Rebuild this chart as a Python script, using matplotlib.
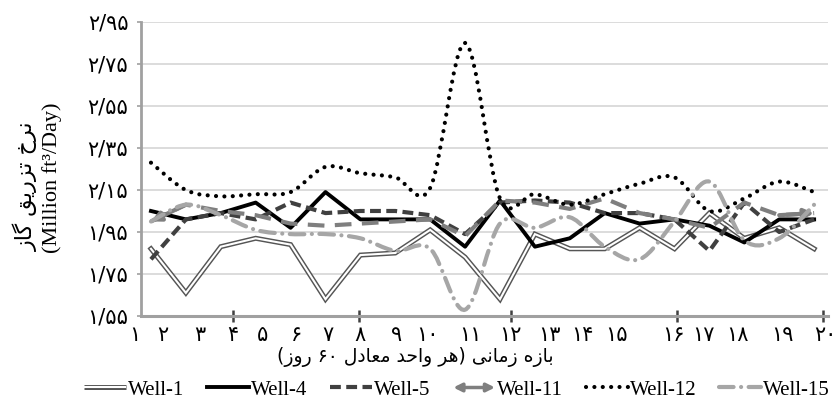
import re
import numpy as np
import matplotlib
matplotlib.use("Agg")
import matplotlib.pyplot as plt
import matplotlib.transforms as mtransforms
from matplotlib.path import Path
from matplotlib.patches import PathPatch, FancyArrowPatch
from matplotlib.lines import Line2D

# ---------------- data ----------------
periods = list(range(1, 21))
period_labels = ['۱', '۲', '۳', '۴', '۵', '۶', '۷', '۸', '۹', '۱۰',
                 '۱۱', '۱۲', '۱۳', '۱۴', '۱۵', '۱۶', '۱۷', '۱۸', '۱۹', '۲۰']
y_ticks = [1.55, 1.75, 1.95, 2.15, 2.35, 2.55, 2.75, 2.95]
y_tick_labels = ['۱/۵۵', '۱/۷۵', '۱/۹۵', '۲/۱۵', '۲/۳۵', '۲/۵۵', '۲/۷۵', '۲/۹۵']

well_1 = [1.87, 1.66, 1.88, 1.92, 1.89, 1.63, 1.84, 1.85, 1.96, 1.83,
          1.63, 1.94, 1.87, 1.87, 1.97, 1.87, 2.04, 1.92, 1.97, 1.87]
well_4 = [2.05, 2.01, 2.04, 2.09, 1.97, 2.14, 2.01, 2.01, 2.01, 1.88,
          2.10, 1.88, 1.92, 2.04, 1.99, 2.01, 1.98, 1.90, 2.01, 2.01]
well_5 = [1.82, 2.01, 2.04, 2.01, 2.09, 2.04, 2.05, 2.05, 2.03, 1.94,
          2.09, 2.10, 2.09, 2.04, 2.04, 2.01, 1.86, 2.09, 1.95, 2.01]
well_11 = [2.00, 2.08, 2.05, 2.03, 1.99, 1.98, 1.99, 2.00, 2.01, 1.93,
           2.10, 2.09, 2.06, 2.11, 2.04, 2.01, 1.97, 2.09, 2.03, 2.04]
well_12 = [2.28, 2.15, 2.12, 2.13, 2.14, 2.26, 2.23, 2.21, 2.16, 2.85,
           2.11, 2.13, 2.08, 2.13, 2.18, 2.21, 2.05, 2.11, 2.19, 2.14]
well_15 = [2.00, 2.08, 2.03, 1.96, 1.94, 1.94, 1.92, 1.86, 1.87, 1.58,
           1.99, 1.97, 2.02, 1.88, 1.82, 2.00, 2.19, 1.91, 1.92, 2.08]

series_names = ['Well-1', 'Well-4', 'Well-5', 'Well-11', 'Well-12', 'Well-15']

x_title = 'بازه زمانی (هر واحد معادل ۶۰ روز)'
y_title_fa = 'نرخ تزریق گاز'
y_title_en = '(Million ft³/Day)'

# label placement along the x axis (as in the source figure)
label_pos = [0.54, 1.34, 2.40, 3.35, 4.21, 5.18, 6.07, 6.99, 8.05, 8.91,
             10.14, 11.29, 12.43, 13.35, 14.35, 15.96, 16.82, 17.79, 19.08, 20.31]
tick_marks = [3.35, 6.96, 11.32, 16.07, 20.25]

# ---------------- Persian shaping helpers ----------------
FORMS = {
    'ا': ('\uFE8D', '\uFE8E', None, None),
    'ب': ('\uFE8F', '\uFE90', '\uFE91', '\uFE92'),
    'ت': ('\uFE95', '\uFE96', '\uFE97', '\uFE98'),
    'ح': ('\uFEA1', '\uFEA2', '\uFEA3', '\uFEA4'),
    'خ': ('\uFEA5', '\uFEA6', '\uFEA7', '\uFEA8'),
    'د': ('\uFEA9', '\uFEAA', None, None),
    'ر': ('\uFEAD', '\uFEAE', None, None),
    'ز': ('\uFEAF', '\uFEB0', None, None),
    'ع': ('\uFEC9', '\uFECA', '\uFECB', '\uFECC'),
    'ق': ('\uFED5', '\uFED6', '\uFED7', '\uFED8'),
    'ل': ('\uFEDD', '\uFEDE', '\uFEDF', '\uFEE0'),
    'م': ('\uFEE1', '\uFEE2', '\uFEE3', '\uFEE4'),
    'ن': ('\uFEE5', '\uFEE6', '\uFEE7', '\uFEE8'),
    'ه': ('\uFEE9', '\uFEEA', '\uFEEB', '\uFEEC'),
    'و': ('\uFEED', '\uFEEE', None, None),
    'ی': ('\uFBFC', '\uFBFD', '\uFBFE', '\uFBFF'),
    'گ': ('\uFB92', '\uFB93', '\uFB94', '\uFB95'),
}


def shape(s):
    out = []
    for i, c in enumerate(s):
        if c not in FORMS:
            out.append(c)
            continue
        prev = s[i - 1] if i > 0 else ''
        nxt = s[i + 1] if i + 1 < len(s) else ''
        jp = prev in FORMS and FORMS[prev][2] is not None
        jn = FORMS[c][2] is not None and nxt in FORMS
        iso, fin, ini, med = FORMS[c]
        if jp and jn:
            out.append(med)
        elif jp:
            out.append(fin)
        elif jn:
            out.append(ini)
        else:
            out.append(iso)
    return ''.join(out)


def rtl(s):
    r = shape(s)[::-1]
    r = re.sub(r'[\u06F0-\u06F9]+', lambda m: m.group(0)[::-1], r)
    return r.translate(str.maketrans('()', ')('))


def smooth_path(xs, ys):
    pts = np.column_stack([xs, ys]).astype(float)
    n = len(pts)
    verts = [pts[0]]
    codes = [Path.MOVETO]
    for i in range(n - 1):
        p0 = pts[i - 1] if i > 0 else pts[i]
        p1, p2 = pts[i], pts[i + 1]
        p3 = pts[i + 2] if i + 2 < n else pts[i + 1]
        verts += [p1 + (p2 - p0) / 6.0, p2 - (p3 - p1) / 6.0, p2]
        codes += [Path.CURVE4] * 3
    return Path(verts, codes)


# ---------------- figure ----------------
FA = ['DejaVu Sans']
EN = ['Liberation Serif', 'DejaVu Serif']

fig = plt.figure(figsize=(8.39, 4.05), dpi=100)
ax = fig.add_axes([0.168, 0.2198, 0.819, 0.7259])

C1, C4, C5, C11, C12, C15 = '#555555', '#000000', '#404040', '#7f7f7f', '#000000', '#a6a6a6'

# Well-1 : double line
ax.plot(periods, well_1, color=C1, lw=3.6, solid_joinstyle='miter', zorder=3)
ax.plot(periods, well_1, color='white', lw=1.5, solid_joinstyle='miter', zorder=3.01)
# Well-4
ax.plot(periods, well_4, color=C4, lw=2.8, zorder=3.1)
# Well-5
ax.plot(periods, well_5, color=C5, lw=3.0, linestyle=(0, (2.6, 1.3)), zorder=3.2)
# Well-11 with arrow heads
ax.plot(periods, well_11, color=C11, lw=3.0, linestyle=(0, (4.0, 2.5)), zorder=3.3)
for (xa, ya), (xb, yb) in [((periods[1], well_11[1]), (periods[0], well_11[0])),
                           ((periods[-2], well_11[-2]), (periods[-1], well_11[-1]))]:
    ax.annotate('', xy=(xb, yb), xytext=(xa, ya),
                arrowprops=dict(arrowstyle='-|>', color=C11, lw=3.0,
                                mutation_scale=14, shrinkA=0, shrinkB=0),
                zorder=3.3)
# Well-12 : smoothed dotted
ax.add_patch(PathPatch(smooth_path(periods, well_12), fill=False, edgecolor=C12,
                       lw=3.0, linestyle=(0, (0.01, 2.0)), capstyle='round', zorder=3.4))
# Well-15 : smoothed dash-dot light grey
ax.add_patch(PathPatch(smooth_path(periods, well_15), fill=False, edgecolor=C15,
                       lw=3.0, linestyle=(0, (3.5, 1.8, 0.01, 1.8)), capstyle='round',
                       zorder=3.5))

ax.set_xlim(0.713, 20.40)
ax.set_ylim(1.55, 2.95)
ax.set_yticks(y_ticks)
ax.set_yticklabels(y_tick_labels, family=FA, fontsize=15)
ax.set_xticks(tick_marks)
ax.set_xticklabels([''] * len(tick_marks))
ax.yaxis.grid(True, color='#d9d9d9', lw=1.3)
ax.set_axisbelow(True)
for sp in ['top', 'right']:
    ax.spines[sp].set_visible(False)
ax.spines['left'].set_color('#a0a0a0')
ax.spines['left'].set_linewidth(2.0)
ax.spines['bottom'].set_color('#a0a0a0')
ax.spines['bottom'].set_linewidth(2.2)
ax.tick_params(axis='y', length=3, width=1.2, color='#a0a0a0', pad=6)
ax.tick_params(axis='x', direction='inout', length=8, width=1.8, color='#404040')

tr = mtransforms.blended_transform_factory(ax.transData, ax.transAxes)
for pos, lab in zip(label_pos, period_labels):
    ax.text(pos, -0.065, lab, transform=tr, ha='center', va='center',
            family=FA, fontsize=15, clip_on=False)

fig.text(415 / 839, 1 - 357 / 405, rtl(x_title), ha='center', va='center',
         family=FA, fontsize=13.5)
fig.text(26 / 839, 1 - 186 / 405, rtl(y_title_fa), ha='center', va='center',
         rotation=90, family=FA, fontsize=16)
fig.text(52 / 839, 1 - 178 / 405, y_title_en, ha='center', va='center',
         rotation=90, family=EN, fontsize=16)


# legend
class ArrowHandler:
    def legend_artist(self, legend, orig_handle, fontsize, handlebox):
        x0, y0 = handlebox.xdescent, handlebox.ydescent
        w, h = handlebox.width, handlebox.height
        p = FancyArrowPatch((x0, y0 + h / 2), (x0 + w, y0 + h / 2),
                            arrowstyle='<|-|>', mutation_scale=12, lw=2.5,
                            color=C11, shrinkA=0, shrinkB=0,
                            transform=handlebox.get_transform())
        handlebox.add_artist(p)
        return p


class DoubleLineHandler:
    def legend_artist(self, legend, orig_handle, fontsize, handlebox):
        x0, y0 = handlebox.xdescent, handlebox.ydescent
        w, h = handlebox.width, handlebox.height
        t = handlebox.get_transform()
        a = Line2D([x0, x0 + w], [y0 + h / 2] * 2, color=C1, lw=3.6,
                   solid_capstyle='butt', transform=t)
        b = Line2D([x0, x0 + w], [y0 + h / 2] * 2, color='white', lw=1.5,
                   solid_capstyle='butt', transform=t)
        handlebox.add_artist(a)
        handlebox.add_artist(b)
        return a


class ArrowProxy:
    pass


class DoubleProxy:
    pass


h1 = DoubleProxy()
h4 = Line2D([], [], color=C4, lw=2.8)
h5 = Line2D([], [], color=C5, lw=3.0, linestyle=(0, (2.6, 1.3)))
h11 = ArrowProxy()
h12 = Line2D([], [], color=C12, lw=3.0, linestyle=(0, (0.01, 2.0)), dash_capstyle='round')
h15 = Line2D([], [], color=C15, lw=3.0, linestyle=(0, (3.5, 1.8, 0.01, 1.8)),
             dash_capstyle='round')

fig.legend([h1, h4, h5, h11, h12, h15], series_names,
           handler_map={DoubleProxy: DoubleLineHandler(), ArrowProxy: ArrowHandler()},
           loc='center', bbox_to_anchor=(457 / 839, 1 - 390 / 405), ncol=6,
           frameon=False, prop={'family': EN, 'size': 15},
           handlelength=2.0, handletextpad=0.1, columnspacing=1.1,
           borderpad=0, borderaxespad=0)

fig.savefig('out.png', dpi=100)
